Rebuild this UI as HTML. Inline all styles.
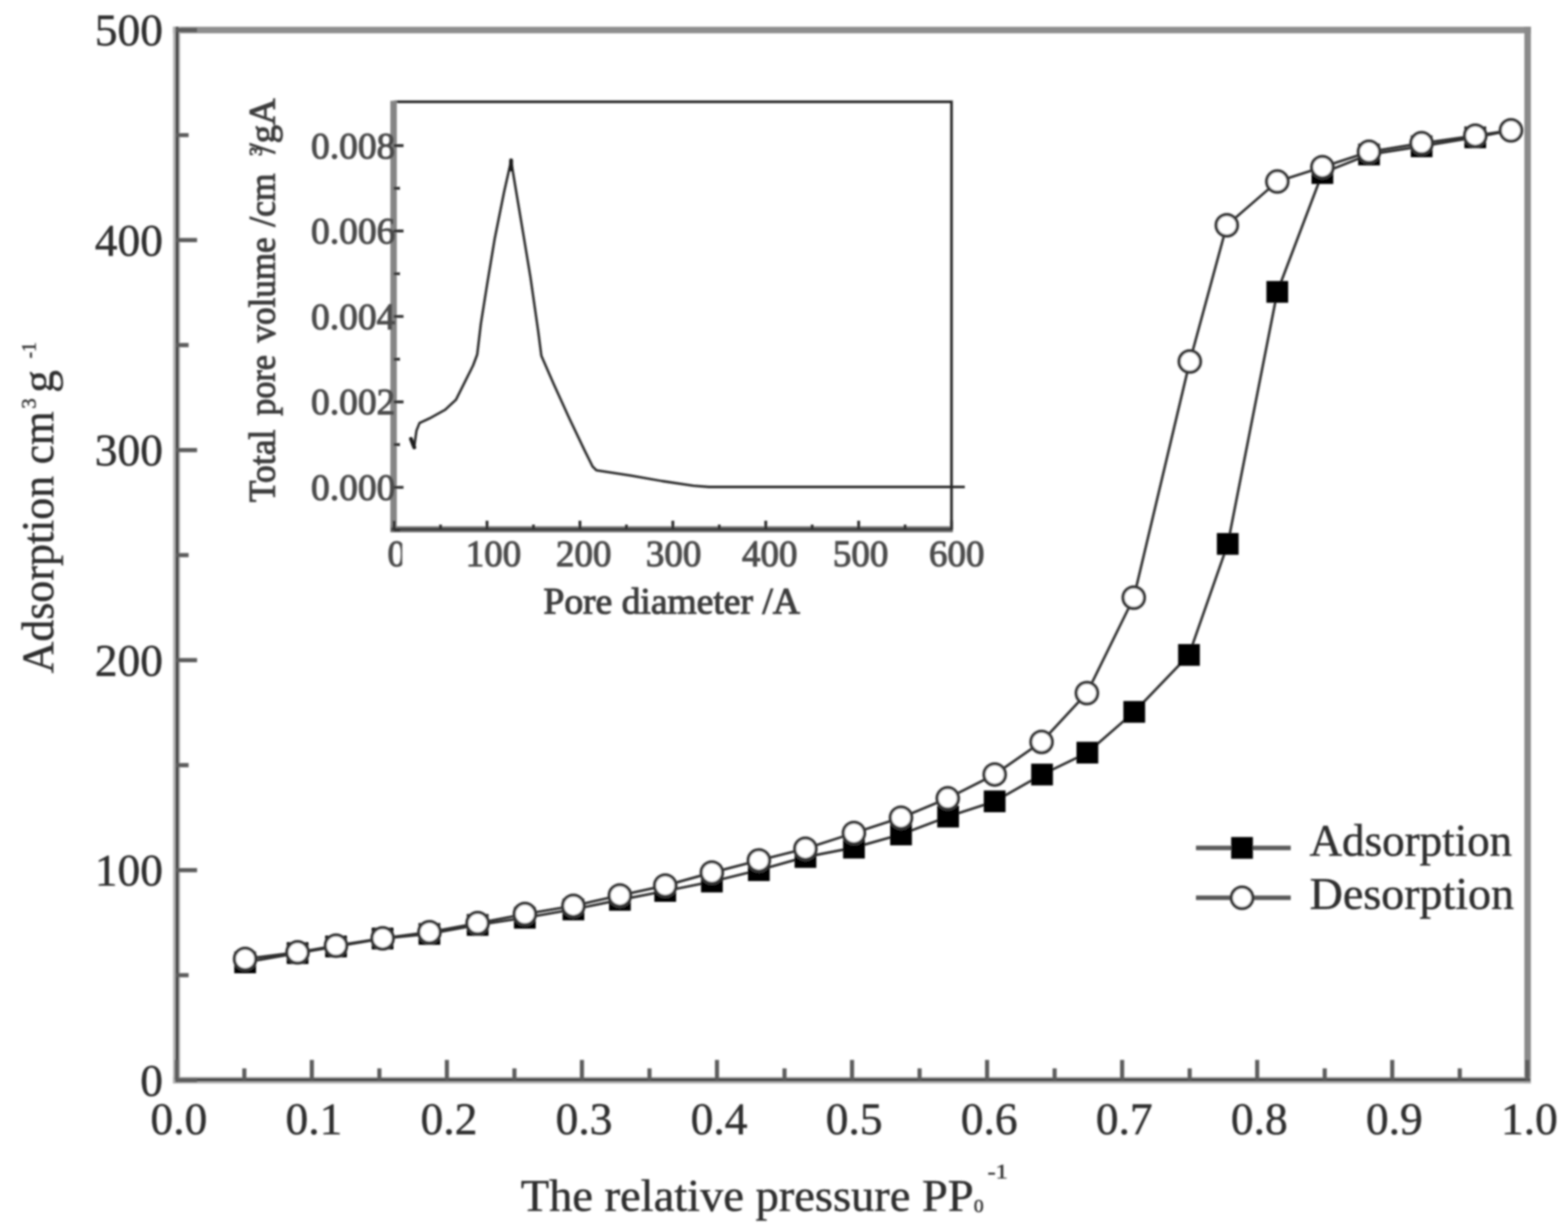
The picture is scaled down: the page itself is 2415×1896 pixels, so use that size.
<!DOCTYPE html>
<html lang="en"><head><meta charset="utf-8"><title>Adsorption / desorption isotherm</title>
<style>
html,body{margin:0;padding:0;background:#fff;}
body{width:2415px;height:1896px;overflow:hidden;}
svg{display:block;font-family:"Liberation Serif","DejaVu Serif",serif;}
.t{fill:#2e2e2e;stroke:#2e2e2e;stroke-width:0.7px;font-size:70px;}
.it{fill:#4c4c4c;stroke:#4c4c4c;stroke-width:1.6px;font-size:57px;}
</style></head><body>
<svg width="2415" height="1896" viewBox="0 0 2415 1896">
<defs><filter id="soft" x="-2%" y="-2%" width="104%" height="104%"><feGaussianBlur stdDeviation="1.7"/></filter></defs>
<rect width="2415" height="1896" fill="#fff"/>
<g filter="url(#soft)">
<g fill="none" stroke-linecap="butt">
<path d="M266.5 46.3 H2358" stroke="#8e8e8e" stroke-width="10"/>
<path d="M2352.8 41.3 V1668.5" stroke="#8a8a8a" stroke-width="10"/>
<path d="M272 41.3 V1668.5" stroke="#b4b4b4" stroke-width="11"/>
<path d="M266.5 1663.8 H2358" stroke="#b0b0b0" stroke-width="10"/>
<path d="M272.8 41.3 V1667" stroke="#454545" stroke-width="5"/>
<path d="M270 1663 H2357" stroke="#454545" stroke-width="5"/>
<path d="M272.3 1663.5 v-31 M480.3 1663.5 v-31 M688.3 1663.5 v-31 M896.3 1663.5 v-31 M1104.3 1663.5 v-31 M1312.3 1663.5 v-31 M1520.3 1663.5 v-31 M1728.3 1663.5 v-31 M1936.3 1663.5 v-31 M2144.3 1663.5 v-31 M2352.3 1663.5 v-31 M376.3 1663.5 v-18 M584.3 1663.5 v-18 M792.3 1663.5 v-18 M1000.3 1663.5 v-18 M1208.3 1663.5 v-18 M1416.3 1663.5 v-18 M1624.3 1663.5 v-18 M1832.3 1663.5 v-18 M2040.3 1663.5 v-18 M2248.3 1663.5 v-18 M271.5 1663.8 h32 M271.5 1340.3 h32 M271.5 1016.8 h32 M271.5 693.3 h32 M271.5 369.8 h32 M271.5 46.3 h32 M271.5 1502.0 h19 M271.5 1178.5 h19 M271.5 855.0 h19 M271.5 531.5 h19 M271.5 208.1 h19" stroke="#5c5c5c" stroke-width="6.4"/>
</g>
<g class="t" text-anchor="middle">
<text x="275.5" y="1747">0.0</text>
<text x="483.5" y="1747">0.1</text>
<text x="691.5" y="1747">0.2</text>
<text x="899.5" y="1747">0.3</text>
<text x="1107.5" y="1747">0.4</text>
<text x="1315.5" y="1747">0.5</text>
<text x="1523.5" y="1747">0.6</text>
<text x="1731.5" y="1747">0.7</text>
<text x="1939.5" y="1747">0.8</text>
<text x="2147.5" y="1747">0.9</text>
<text x="2355.5" y="1747">1.0</text>
</g>
<g class="t" text-anchor="end">
<text x="251" y="1687.5">0</text>
<text x="251" y="1364.0">100</text>
<text x="251" y="1040.5">200</text>
<text x="251" y="717.0">300</text>
<text x="251" y="393.5">400</text>
<text x="251" y="70.0">500</text>
</g>
<g class="t">
<text x="802" y="1865" textLength="713" lengthAdjust="spacingAndGlyphs">The relative pressure PP<tspan font-size="30" dy="2">0</tspan></text>
<text x="1521" y="1815" font-size="32" textLength="31" lengthAdjust="spacingAndGlyphs">-1</text>
<g transform="translate(82 1037) rotate(-90)">
<text x="0" y="0" textLength="304" lengthAdjust="spacingAndGlyphs">Adsorption</text>
<text x="322" y="0" textLength="81.5" lengthAdjust="spacingAndGlyphs">cm</text>
<text x="407.5" y="-27" font-size="32">3</text>
<text x="432" y="0">g</text>
<text x="485" y="-27" font-size="32" textLength="25" lengthAdjust="spacingAndGlyphs">-1</text>
</g>
</g>
<g fill="none">
<path d="M606.5 156.7 H1465.5 V815.0" stroke="#222" stroke-width="4"/>
<path d="M606.2 155.2 V819.0" stroke="#858585" stroke-width="10"/>
<path d="M601.5 815.3 H1467.5" stroke="#7a7a7a" stroke-width="9.5"/>
<path d="M602.5 815.3 H1467.5" stroke="#3c3c3c" stroke-width="4.5"/>
<path d="M607.0 815.0 v-13 M750.1 815.0 v-13 M893.2 815.0 v-13 M1036.3 815.0 v-13 M1179.4 815.0 v-13 M1322.5 815.0 v-13 M1465.6 815.0 v-13 M678.5 815.0 v-7 M821.6 815.0 v-7 M964.8 815.0 v-7 M1107.8 815.0 v-7 M1250.9 815.0 v-7 M1394.0 815.0 v-7 M606.5 750.6 h15 M606.5 619.0 h15 M606.5 487.4 h15 M606.5 355.8 h15 M606.5 224.2 h15 M606.5 816.4 h9.5 M606.5 684.8 h9.5 M606.5 553.2 h9.5 M606.5 421.6 h9.5 M606.5 290.0 h9.5" stroke="#2e2e2e" stroke-width="4.4"/>
<polyline points="631.8,674.1 637.8,689.7 641.4,663.4 646.2,651.4 661.7,644.3 685.6,631.1 702.3,615.6 714.3,591.7 728.6,563.0 735.0,546.0 740.6,498.7 750.1,439.0 762.0,367.3 776.4,295.6 787.2,247.8 793.1,283.6 805.1,355.3 817.0,427.0 829.0,510.7 833.8,548.0 852.9,591.7 876.8,644.3 900.7,694.4 912.6,718.3 918.6,724.3 972.4,732.7 1020.1,741.0 1067.9,748.2 1091.8,750.0 1486.0,750.0" stroke="#2a2a2a" stroke-width="3.8" stroke-linejoin="round"/>
<path d="M787.2 247 v14" stroke="#1a1a1a" stroke-width="6" stroke-linecap="round"/>
<path d="M633 676 L638 689" stroke="#1a1a1a" stroke-width="6" stroke-linecap="round"/>
</g>
<g class="it" text-anchor="end">
<text x="609" y="769.9" textLength="130" lengthAdjust="spacingAndGlyphs">0.000</text>
<text x="609" y="638.3" textLength="130" lengthAdjust="spacingAndGlyphs">0.002</text>
<text x="609" y="506.7" textLength="130" lengthAdjust="spacingAndGlyphs">0.004</text>
<text x="609" y="375.1" textLength="130" lengthAdjust="spacingAndGlyphs">0.006</text>
<text x="609" y="243.5" textLength="130" lengthAdjust="spacingAndGlyphs">0.008</text>
</g>
<g class="it" text-anchor="middle">
<clipPath id="c0"><rect x="580" y="820" width="39.5" height="70"/></clipPath>
<text x="611.0" y="872" clip-path="url(#c0)">0</text>
<text x="760.0" y="872">100</text>
<text x="899.0" y="872">200</text>
<text x="1037.5" y="872">300</text>
<text x="1185.5" y="872">400</text>
<text x="1325.5" y="872">500</text>
<text x="1473.5" y="872">600</text>
</g>
<text class="it" x="837" y="945" textLength="395" lengthAdjust="spacingAndGlyphs" style="fill:#3c3c3c;stroke:#3c3c3c">Pore diameter /A</text>
<g class="it" transform="translate(422.5 0) rotate(-90)" style="fill:#3c3c3c;stroke:#3c3c3c">
<text x="-773.5" y="0" textLength="111.7" lengthAdjust="spacingAndGlyphs">Total</text>
<text x="-640.3" y="0" textLength="93.3" lengthAdjust="spacingAndGlyphs">pore</text>
<text x="-527.6" y="0" textLength="162" lengthAdjust="spacingAndGlyphs">volume</text>
<text x="-349.3" y="0" textLength="82" lengthAdjust="spacingAndGlyphs">/cm</text>
<text x="-240" y="-20" font-size="28">3</text>
<text x="-236.6" y="0" textLength="85" lengthAdjust="spacingAndGlyphs">/gA</text>
</g>
<g fill="none" stroke="#2e2e2e" stroke-width="3.9" stroke-linejoin="round">
<polyline points="377.5,1482.3 458.3,1468.0 517.5,1457.8 589.3,1445.6 661.4,1438.4 735.6,1424.6 808.4,1413.6 883.1,1400.7 954.7,1386.0 1024.6,1372.3 1096.4,1357.8 1168.8,1340.2 1240.5,1320.0 1315.2,1305.5 1387.7,1285.2 1460.3,1257.7 1532.0,1234.3 1605.0,1192.9 1674.8,1159.3 1747.0,1096.4 1831.2,1008.7 1891.0,837.8 1967.3,449.5 2036.7,266.5 2108.5,238.0 2189.5,225.3 2272.2,211.5 2327.2,200.8"/>
<polyline points="377.5,1477.0 458.3,1466.8 517.5,1456.5 589.3,1445.2 661.4,1435.7 735.6,1421.8 808.4,1407.8 883.1,1395.2 954.7,1379.2 1024.6,1364.0 1096.4,1344.0 1168.8,1325.2 1240.5,1307.2 1315.2,1283.0 1387.7,1259.4 1459.7,1229.6 1532.0,1192.9 1604.2,1142.7 1674.0,1067.5 1746.2,920.5 1832.5,556.8 1889.5,347.0 1967.3,279.6 2036.7,257.4 2108.5,233.8 2189.5,220.6 2272.2,208.9 2327.2,200.8"/>
<path d="M1842 1306 H1988 M1842 1382.8 H1988" stroke="#5a5a5a" stroke-width="7"/>
</g>
<g fill="#000">
<rect x="360.8" y="1465.5" width="33.5" height="33.5"/>
<rect x="441.6" y="1451.2" width="33.5" height="33.5"/>
<rect x="500.8" y="1441.0" width="33.5" height="33.5"/>
<rect x="572.5" y="1428.8" width="33.5" height="33.5"/>
<rect x="644.6" y="1421.7" width="33.5" height="33.5"/>
<rect x="718.9" y="1407.8" width="33.5" height="33.5"/>
<rect x="791.6" y="1396.8" width="33.5" height="33.5"/>
<rect x="866.4" y="1384.0" width="33.5" height="33.5"/>
<rect x="938.0" y="1369.2" width="33.5" height="33.5"/>
<rect x="1007.8" y="1355.5" width="33.5" height="33.5"/>
<rect x="1079.7" y="1341.0" width="33.5" height="33.5"/>
<rect x="1152.0" y="1323.5" width="33.5" height="33.5"/>
<rect x="1223.8" y="1303.2" width="33.5" height="33.5"/>
<rect x="1298.5" y="1288.8" width="33.5" height="33.5"/>
<rect x="1371.0" y="1268.5" width="33.5" height="33.5"/>
<rect x="1443.5" y="1241.0" width="33.5" height="33.5"/>
<rect x="1515.2" y="1217.5" width="33.5" height="33.5"/>
<rect x="1588.2" y="1176.2" width="33.5" height="33.5"/>
<rect x="1658.0" y="1142.5" width="33.5" height="33.5"/>
<rect x="1730.2" y="1079.7" width="33.5" height="33.5"/>
<rect x="1814.5" y="992.0" width="33.5" height="33.5"/>
<rect x="1874.2" y="821.0" width="33.5" height="33.5"/>
<rect x="1950.5" y="432.8" width="33.5" height="33.5"/>
<rect x="2020.0" y="249.8" width="33.5" height="33.5"/>
<rect x="2091.8" y="221.2" width="33.5" height="33.5"/>
<rect x="2172.8" y="208.6" width="33.5" height="33.5"/>
<rect x="2255.4" y="194.8" width="33.5" height="33.5"/>
<rect x="1896.2" y="1289.2" width="33.5" height="33.5"/>
</g>
<g fill="#fff" stroke="#383838" stroke-width="5">
<circle cx="377.5" cy="1477.0" r="16.5"/>
<circle cx="458.3" cy="1466.8" r="16.5"/>
<circle cx="517.5" cy="1456.5" r="16.5"/>
<circle cx="589.3" cy="1445.2" r="16.5"/>
<circle cx="661.4" cy="1435.7" r="16.5"/>
<circle cx="735.6" cy="1421.8" r="16.5"/>
<circle cx="808.4" cy="1407.8" r="16.5"/>
<circle cx="883.1" cy="1395.2" r="16.5"/>
<circle cx="954.7" cy="1379.2" r="16.5"/>
<circle cx="1024.6" cy="1364.0" r="16.5"/>
<circle cx="1096.4" cy="1344.0" r="16.5"/>
<circle cx="1168.8" cy="1325.2" r="16.5"/>
<circle cx="1240.5" cy="1307.2" r="16.5"/>
<circle cx="1315.2" cy="1283.0" r="16.5"/>
<circle cx="1387.7" cy="1259.4" r="16.5"/>
<circle cx="1459.7" cy="1229.6" r="16.5"/>
<circle cx="1532.0" cy="1192.9" r="16.5"/>
<circle cx="1604.2" cy="1142.7" r="16.5"/>
<circle cx="1674.0" cy="1067.5" r="16.5"/>
<circle cx="1746.2" cy="920.5" r="16.5"/>
<circle cx="1832.5" cy="556.8" r="16.5"/>
<circle cx="1889.5" cy="347.0" r="16.5"/>
<circle cx="1967.3" cy="279.6" r="16.5"/>
<circle cx="2036.7" cy="257.4" r="16.5"/>
<circle cx="2108.5" cy="233.8" r="16.5"/>
<circle cx="2189.5" cy="220.6" r="16.5"/>
<circle cx="2272.2" cy="208.9" r="16.5"/>
<circle cx="2327.2" cy="200.8" r="16.5"/>
<circle cx="1913" cy="1382.8" r="16.5"/>
</g>
<g class="t">
<text x="2017" y="1317.5" textLength="312" lengthAdjust="spacingAndGlyphs">Adsorption</text>
<text x="2017" y="1400" textLength="315" lengthAdjust="spacingAndGlyphs">Desorption</text>
</g>
</g>
</svg>
</body></html>
